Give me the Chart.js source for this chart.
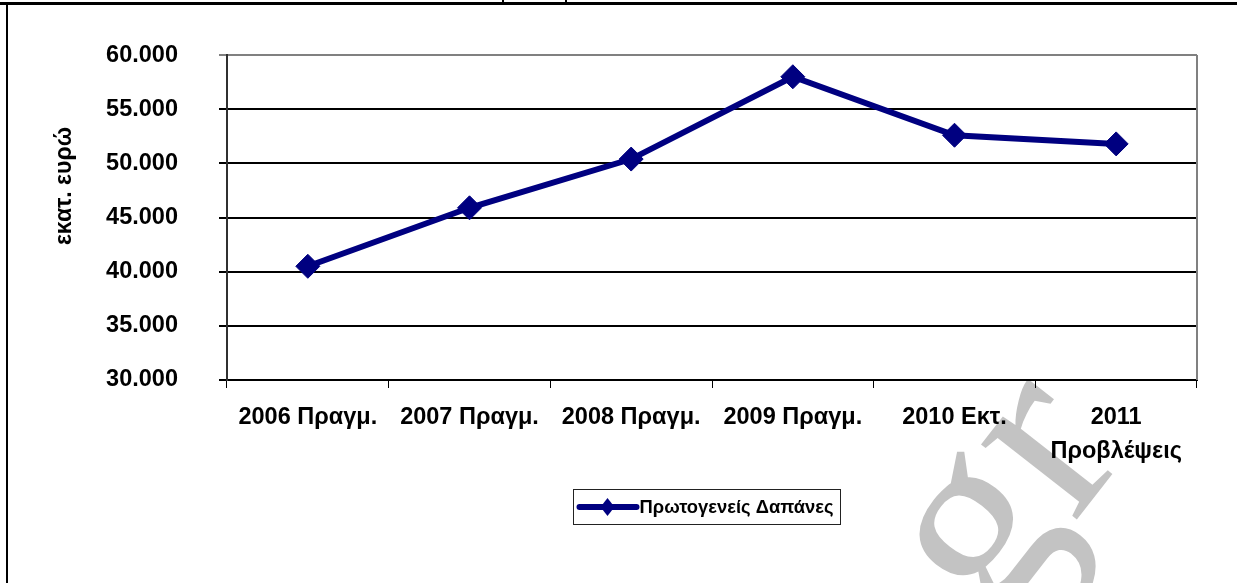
<!DOCTYPE html>
<html>
<head>
<meta charset="utf-8">
<script src="https://cdn.jsdelivr.net/npm/chart.js@4"></script>
<style>
  html, body { margin: 0; padding: 0; background: #fff; }
  #wrap { width: 1237px; height: 583px; }
</style>
</head>
<body>
<div id="wrap"><canvas id="chart" width="1237" height="583"></canvas></div>
<script>
const categories = ['2006 Πραγμ.', '2007 Πραγμ.', '2008 Πραγμ.', '2009 Πραγμ.', '2010 Εκτ.', ['2011', 'Προβλέψεις']]
const primarySpending = [40500, 45900, 50400, 58000, 52600, 51800]
const yTickLabels = ['30.000', '35.000', '40.000', '45.000', '50.000', '55.000', '60.000']
const seriesName = 'Πρωτογενείς Δαπάνες'
const yTitle = 'εκατ. ευρώ'
const watermark = 'gr'

const FONT = '"Liberation Sans", Arial, sans-serif'
const NAVY = '#000080'

// page frame, watermark and the hand drawn bits Chart.js does not do
const framePlugin = {
  id: 'frame',
  beforeDraw: (chart) => {
    const { ctx, width, height } = chart
    ctx.save()
    ctx.fillStyle = '#FFFFFF'
    ctx.fillRect(0, 0, width, height)

    // table borders cut off at the top and left
    ctx.fillStyle = '#000'
    ctx.fillRect(0, 2, width, 3)
    ctx.fillRect(6, 2, 2, height)
    ctx.fillRect(502, 0, 2, 4)
    ctx.fillRect(565, 0, 2, 4)

    // watermark
    ctx.translate(992, 628)
    ctx.rotate(-52 * Math.PI / 180)
    ctx.fillStyle = '#c3c3c3'
    ctx.font = '265px "Liberation Serif", "Times New Roman", serif'
    ctx.textBaseline = 'alphabetic'
    ctx.fillText(watermark, 0, 0)
    ctx.restore()
  },
  beforeDatasetsDraw: (chart) => {
    const { ctx, chartArea } = chart
    ctx.save()
    // grey frame on the right side of the plot
    ctx.strokeStyle = '#808080'
    ctx.lineWidth = 2
    ctx.beginPath()
    ctx.moveTo(chartArea.right, chartArea.top)
    ctx.lineTo(chartArea.right, chartArea.bottom)
    ctx.stroke()
    ctx.restore()
  },
  afterDraw: (chart) => {
    const { ctx, chartArea } = chart
    ctx.save()

    // y axis title
    ctx.translate(65, 186)
    ctx.rotate(-Math.PI / 2)
    ctx.fillStyle = '#000'
    ctx.font = 'bold 23px ' + FONT
    ctx.textAlign = 'center'
    ctx.textBaseline = 'middle'
    ctx.fillText(yTitle, 0, 0)
    ctx.setTransform(1, 0, 0, 1, 0, 0)

    // legend box
    const boxW = 267
    const boxH = 35
    const cx = (chartArea.left + chartArea.right) / 2 - 6
    const bx = Math.round(cx - boxW / 2) + 0.5
    const by = 489.5
    ctx.strokeStyle = '#222'
    ctx.lineWidth = 1
    ctx.strokeRect(bx, by, boxW, boxH)

    const my = by + boxH / 2
    ctx.strokeStyle = NAVY
    ctx.lineWidth = 6
    ctx.lineCap = 'round'
    ctx.beginPath()
    ctx.moveTo(bx + 6, my)
    ctx.lineTo(bx + 63, my)
    ctx.stroke()
    ctx.fillStyle = NAVY
    ctx.beginPath()
    ctx.moveTo(bx + 34, my - 9)
    ctx.lineTo(bx + 41, my)
    ctx.lineTo(bx + 34, my + 9)
    ctx.lineTo(bx + 27, my)
    ctx.closePath()
    ctx.fill()

    ctx.fillStyle = '#000'
    ctx.font = 'bold 19px ' + FONT
    ctx.textAlign = 'left'
    ctx.textBaseline = 'middle'
    ctx.fillText(chart.data.datasets[0].label, bx + 66, my + 1, 194)
    ctx.restore()
  },
}

new Chart(document.getElementById('chart'), {
  type: 'line',
  data: {
    labels: categories,
    datasets: [{
      label: seriesName,
      data: primarySpending,
      borderColor: NAVY,
      backgroundColor: NAVY,
      borderWidth: 6,
      tension: 0,
      pointStyle: 'rectRot',
      pointRadius: 12,
      pointBackgroundColor: NAVY,
      pointBorderColor: NAVY,
      pointBorderWidth: 1,
      clip: false,
    }],
  },
  options: {
    responsive: false,
    animation: false,
    events: [],
    layout: {
      padding: { left: 8, right: 40, top: 55, bottom: 93 },
    },
    plugins: {
      legend: { display: false },
      tooltip: { enabled: false },
    },
    scales: {
      x: {
        type: 'category',
        offset: true,
        afterFit: (scale) => { scale.height = 110 },
        border: { color: '#000', width: 2 },
        grid: {
          offset: true,
          drawOnChartArea: false,
          drawTicks: true,
          tickLength: 8,
          color: '#000',
          lineWidth: 1,
        },
        ticks: {
          autoSkip: false,
          maxRotation: 0,
          padding: 13,
          color: '#000',
          font: { family: FONT, size: 23.5, weight: 'bold', lineHeight: 1.42 },
        },
      },
      y: {
        min: 30000,
        max: 60000,
        afterFit: (scale) => { scale.width = 219 },
        border: { color: '#303030', width: 2 },
        grid: {
          color: (ctx) => (ctx.tick && ctx.tick.value === 60000 ? '#808080' : '#000'),
          lineWidth: 2,
          tickLength: 8,
        },
        ticks: {
          stepSize: 5000,
          padding: 41,
          color: '#000',
          font: { family: FONT, size: 23.5, weight: 'bold' },
          callback: (value, index) => yTickLabels[index],
        },
      },
    },
  },
  plugins: [framePlugin],
})
</script>
</body>
</html>
